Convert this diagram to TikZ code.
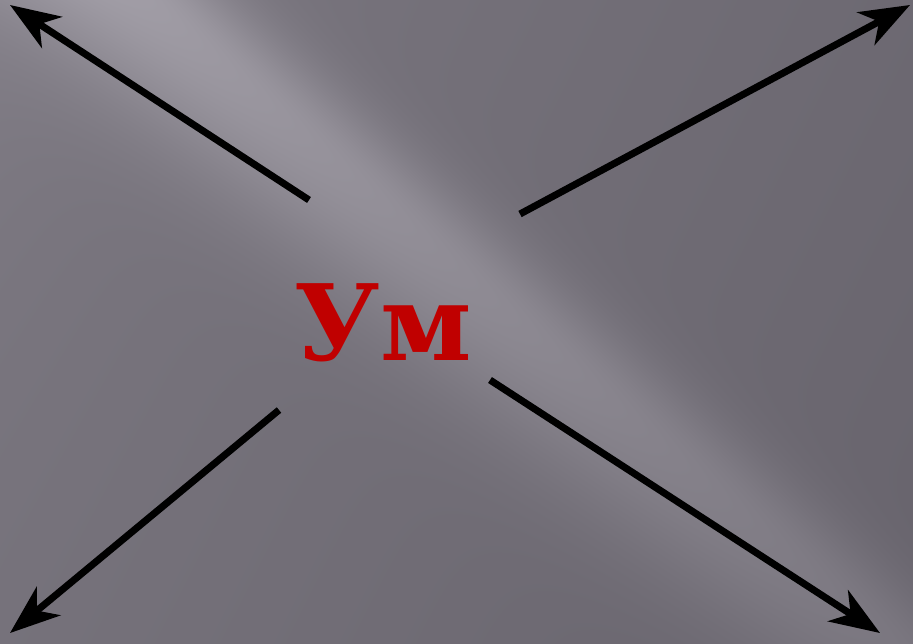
\documentclass[tikz,border=0pt]{standalone}
\usepackage{fontspec}
\newfontfamily\slabfont{DejaVu Serif}
\usetikzlibrary{arrows.meta}

\definecolor{umred}{HTML}{C00000}

% grey backdrop with a light diagonal glare
\pgfdeclarefunctionalshading{backdrop}{\pgfpointorigin}{\pgfpoint{100bp}{100bp}}{}{
  100 exch sub 6.43 mul
  exch 9.13 mul
  2 copy 200 div dup mul exch 200 div dup mul add
  neg 2.718 exch exp 0.14 mul
  3 1 roll
  290 sub exch 150 sub
  2 copy -0.00006 mul exch -0.00012 mul add 0.474 add
  3 1 roll
  2 copy 0.656 mul exch 0.755 mul add
  3 1 roll
  0.755 mul exch -0.656 mul add
  dup 0 lt {28} {48} ifelse div dup mul neg 2.718 exch exp
  exch -0.00015 mul 0.15 add mul
  add add
  dup dup 0.02 add exch -0.015 add exch
}

\begin{document}
\begin{tikzpicture}[
    ray/.style={line width=2pt, -{Stealth[length=5mm, width=3.7mm, inset=1.5mm]}},
    word/.style={text=umred, font=\slabfont\bfseries\fontsize{30}{30}\selectfont, inner sep=0pt}
  ]
% Draw background
\useasboundingbox (0,0) rectangle (9.13,6.43);
\shade[shading=backdrop] (0,0) rectangle (9.13,6.43);

% Word in the middle
\node[word, anchor=base] (um) at (3.83,2.83) {Ум};

% Ends of the rays
\coordinate (nw-in) at (3.09,4.43);
\coordinate (nw-out) at (0.10,6.38);
\coordinate (ne-in) at (5.20,4.29);
\coordinate (ne-out) at (9.10,6.38);
\coordinate (sw-in) at (2.79,2.33);
\coordinate (sw-out) at (0.10,0.10);
\coordinate (se-in) at (4.90,2.63);
\coordinate (se-out) at (8.80,0.10);

% Draw rays
\draw[ray] (nw-in) -- (nw-out);
\draw[ray] (ne-in) -- (ne-out);
\draw[ray] (sw-in) -- (sw-out);
\draw[ray] (se-in) -- (se-out);

\end{tikzpicture}
\end{document}
